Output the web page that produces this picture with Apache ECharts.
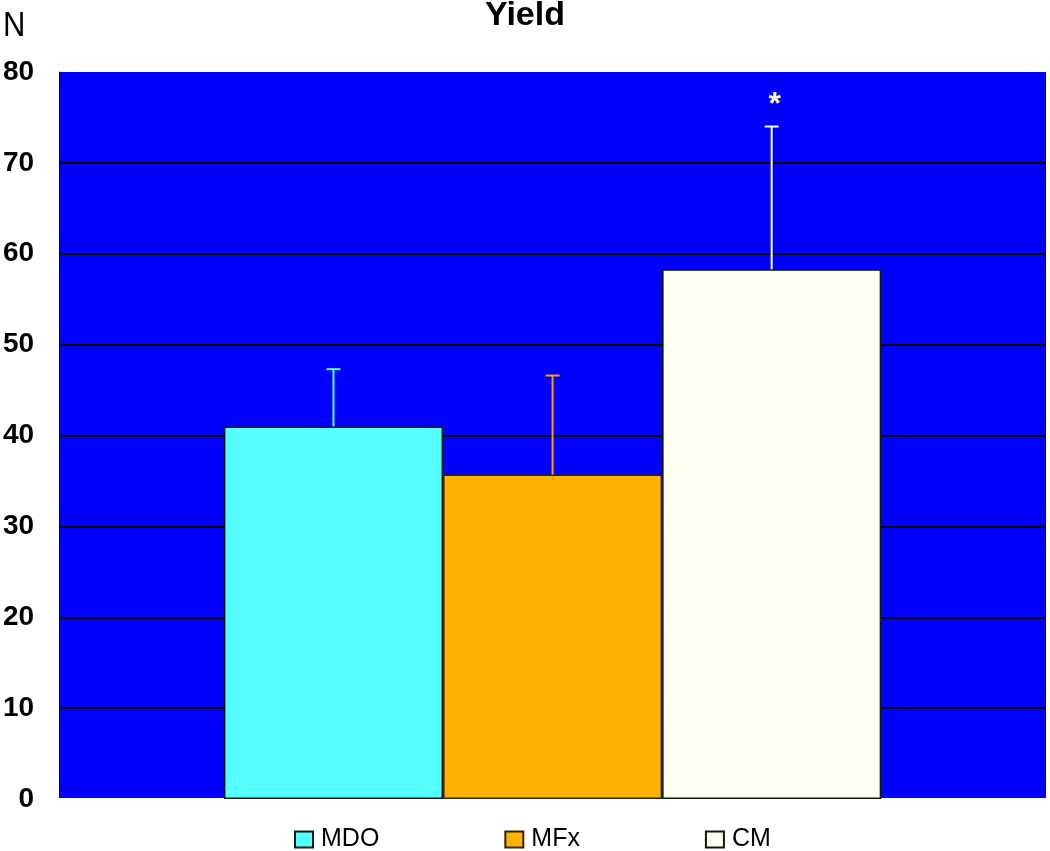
<!DOCTYPE html>
<html>
<head>
<meta charset="utf-8">
<script src="https://cdn.jsdelivr.net/npm/echarts@6/dist/echarts.min.js"></script>
<style>html,body{margin:0;padding:0;background:#fff}#c{width:1050px;height:851px}</style>
</head>
<body>
<div id="c"></div>
<script>
const categories = ['Yield'];
const seriesNames = ['MDO', 'MFx', 'CM'];
const means = [41.0, 35.7, 58.3];
const errors = [6.3, 10.9, 15.7];
const significance = ['', '', '*'];
const yTicks = [0, 10, 20, 30, 40, 50, 60, 70, 80];

const fills = ['#55FFFF', '#FFB300', '#FFFFF0'];
const borders = ['#0a1a1a', '#3a2200', '#0a1a05'];
const errColors = ['#55FFFF', '#FF9A00', '#FFFFFF'];
const FONT = '"Liberation Sans", Arial, sans-serif';
const CAT_GAP = 0.334;

const chart = echarts.init(document.getElementById('c'));
const series = [];
seriesNames.forEach((name, i) => {
  series.push({
    name: name,
    type: 'bar',
    data: [means[i]],
    barGap: '0%',
    barCategoryGap: (CAT_GAP * 100) + '%',
    itemStyle: { color: fills[i], borderColor: borders[i], borderWidth: 1.5 },
    z: 2
  });
});
seriesNames.forEach((name, i) => {
  series.push({
    type: 'custom',
    name: name + '-err',
    data: [[0, means[i], errors[i], significance[i]]],
    z: 3,
    silent: true,
    renderItem: function (params, api) {
      const band = api.size([1, 0])[0];
      const bw = band * (1 - CAT_GAP) / seriesNames.length;
      const offset = (i - (seriesNames.length - 1) / 2) * bw;
      const base = api.coord([api.value(0), api.value(1)]);
      const top = api.coord([api.value(0), api.value(1) + api.value(2)]);
      const x = base[0] + offset;
      const children = [
        { type: 'line', shape: { x1: x, y1: base[1], x2: x, y2: top[1] }, style: { stroke: errColors[i], lineWidth: 2 } },
        { type: 'line', shape: { x1: x - 7, y1: top[1], x2: x + 7, y2: top[1] }, style: { stroke: errColors[i], lineWidth: 2 } }
      ];
      if (significance[i]) {
        children.push({ type: 'text', x: x + 3, y: top[1] - 5, style: { text: significance[i], fill: '#FFFFC0', font: 'bold 32px ' + FONT, align: 'center', verticalAlign: 'bottom' } });
      }
      return { type: 'group', children: children };
    }
  });
});

const splitColors = yTicks.map((t, k) => k === yTicks.length - 1 ? 'rgba(0,0,0,0)' : '#000');

chart.setOption({
  animation: false,
  title: {
    text: 'Yield', left: 'center', top: -6,
    textStyle: { fontFamily: FONT, fontWeight: 'bold', fontSize: 34, color: '#000' }
  },
  graphic: [{ type: 'text', left: 3, top: 8, scaleY: 1.15, style: { text: 'N', font: '31px ' + FONT, fill: '#000' } }],
  legend: {
    data: seriesNames, left: 294, top: 827, padding: 0, itemWidth: 18, itemHeight: 16, itemGap: 125,
    textStyle: { fontFamily: FONT, fontSize: 25, color: '#000', padding: [0, 0, 0, 3] },
    icon: 'rect'
  },
  grid: { left: 58, right: 4, top: 72, bottom: 52, show: true, backgroundColor: '#0000FF', borderWidth: 0 },
  xAxis: {
    type: 'category', data: categories,
    axisLine: { show: true, lineStyle: { color: '#FFFFFF', width: 2 } },
    axisTick: { show: false }, axisLabel: { show: false }
  },
  yAxis: {
    type: 'value', min: 0, max: 80, interval: 10,
    axisLine: { show: true, lineStyle: { color: '#000', width: 1 } },
    axisTick: { show: false },
    axisLabel: { fontFamily: FONT, fontWeight: 'bold', fontSize: 28, color: '#000', margin: 25 },
    splitLine: { show: true, lineStyle: { color: splitColors, width: 2 } }
  },
  series: series
});
</script>
</body>
</html>
